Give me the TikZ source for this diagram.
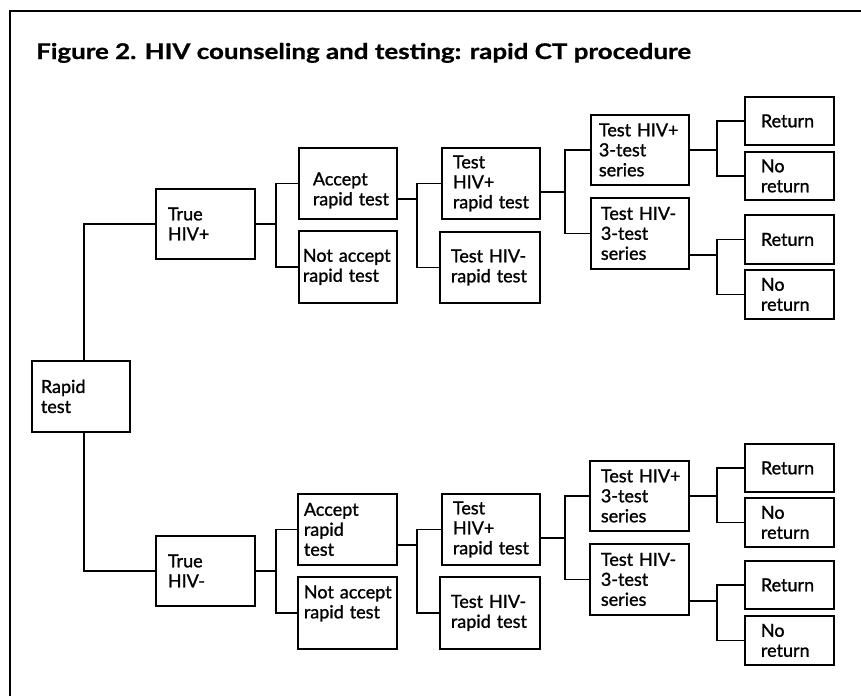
\documentclass[tikz,border=0pt]{standalone}
\usepackage{fontspec}
\setmainfont{Lato}
\newfontfamily\boxfont{Lato}[FakeBold=1.2]
\newfontfamily\titlefont{Lato}[FakeBold=0.8]
\usetikzlibrary{calc}
\begin{document}
\begin{tikzpicture}[x=1pt,y=-1pt,
  boxst/.style={draw, line width=1.8pt, rectangle, anchor=north west, align=left,
    inner xsep=0pt, inner ysep=0pt, font=\boxfont\fontsize{18}{20}\selectfont},
  conn/.style={line width=1.8pt},
  framest/.style={line width=1.5pt},
  titlest/.style={font=\titlefont\bfseries\fontsize{21.6}{24}\selectfont, inner sep=0pt}]
\useasboundingbox (0,0) rectangle (861,696);
\draw[framest] (10,696) -- (10,11) -- (861,11);
\node[titlest, anchor=base west] (title) at (36,59) {\scalebox{1.2}[1]{Figure 2. HIV counseling and testing: rapid CT procedure}};

% level 0
\node[boxst, minimum width=98, minimum height=71, text width=80] (A) at (31,360) {Rapid\\test};
% level 1
\node[boxst, minimum width=99, minimum height=70, text width=75] (T1) at (155,188) {True\\HIV+};
\node[boxst, minimum width=99, minimum height=70, text width=75] (T2) at (155,535) {True\\HIV-};
% level 2
\node[boxst, minimum width=98, minimum height=71, text width=70] (AC1) at (298,147) {\rule{0pt}{27pt}Accept\\\mbox{rapid test}};
\node[boxst, minimum width=98, minimum height=72, text width=90] (NA1) at (298,230) {\mbox{Not accept}\\\mbox{rapid test}};
\node[boxst, minimum width=99, minimum height=71, text width=87] (AC2) at (297,493) {Accept\\rapid\\test};
\node[boxst, minimum width=99, minimum height=72, text width=87] (NA2) at (297,576) {\mbox{Not accept}\\\rule[-22pt]{0pt}{0pt}\mbox{rapid test}};
% level 3
\node[boxst, minimum width=98, minimum height=71, text width=76] (TP1) at (441,147) {Test\\HIV+\\\mbox{rapid test}};
\node[boxst, minimum width=100, minimum height=71, text width=78] (TN1) at (439,231) {\mbox{Test HIV-}\\\mbox{rapid test}};
\node[boxst, minimum width=98, minimum height=71, text width=76] (TP2) at (441,493) {Test\\HIV+\\\mbox{rapid test}};
\node[boxst, minimum width=100, minimum height=72, text width=78] (TN2) at (439,576) {\mbox{Test HIV-}\\\mbox{rapid test}};
% level 4
\node[boxst, minimum width=98, minimum height=70, text width=82] (S1) at (590,114) {\mbox{Test HIV+}\\3-test\\series};
\node[boxst, minimum width=98, minimum height=71, text width=78] (S2) at (590,197) {\mbox{Test HIV-}\\3-test\\series};
\node[boxst, minimum width=99, minimum height=70, text width=77] (S3) at (589,460) {\mbox{Test HIV+}\\3-test\\series};
\node[boxst, minimum width=99, minimum height=71, text width=77] (S4) at (589,543) {\mbox{Test HIV-}\\3-test\\series};
% level 5
\node[boxst, minimum width=89, minimum height=48, text width=57] (R1) at (744,96) {Return};
\node[boxst, minimum width=89, minimum height=48, text width=57] (N1) at (744,151) {No\\return};
\node[boxst, minimum width=89, minimum height=49, text width=57] (R2) at (744,214) {Return};
\node[boxst, minimum width=89, minimum height=49, text width=57] (N2) at (744,269) {No\\return};
\node[boxst, minimum width=89, minimum height=48, text width=57] (R3) at (744,443) {Return};
\node[boxst, minimum width=89, minimum height=49, text width=57] (N3) at (744,497) {No\\return};
\node[boxst, minimum width=89, minimum height=48, text width=57] (R4) at (744,560) {Return};
\node[boxst, minimum width=89, minimum height=49, text width=57] (N4) at (744,615) {No\\return};

% connectors
\draw[conn] ([xshift=3pt]A.north) |- (T1.west);
\draw[conn] ([xshift=3pt]A.south) |- (T2.west);

\draw[conn] (T1.east) -- ([xshift=-22pt]AC1.west |- T1.east);
\draw[conn] (AC1.west) -- ++(-22,0) |- (NA1.west);
\draw[conn] (T2.east) -- ([xshift=-21pt]AC2.west |- T2.east);
\draw[conn] (AC2.west) -- ++(-21,0) |- (NA2.west);

\coordinate (o1) at ($(AC1.east)+(0,15.5)$);
\draw[conn] (o1) -- ([xshift=-24pt]TP1.west |- o1);
\draw[conn] (TP1.west) -- ++(-24,0) |- (TN1.west);
\coordinate (o2) at ($(AC2.east)+(0,15.5)$);
\draw[conn] (o2) -- ([xshift=-24pt]TP2.west |- o2);
\draw[conn] (TP2.west) -- ++(-24,0) |- (TN2.west);

\coordinate (o3) at ($(TP1.east)+(0,8.5)$);
\draw[conn] (o3) -- ([xshift=-25pt]S1.west |- o3);
\draw[conn] (S1.west) -- ++(-25,0) |- (S2.west);
\coordinate (o4) at ($(TP2.east)+(0,8.5)$);
\draw[conn] (o4) -- ([xshift=-24pt]S3.west |- o4);
\draw[conn] (S3.west) -- ++(-24,0) |- (S4.west);

\draw[conn] (S1.east) -- ([xshift=-27pt]R1.west |- S1.east);
\draw[conn] (R1.west) -- ++(-27,0) |- (N1.west);
\coordinate (o5) at ($(S2.east)+(0,21.5)$);
\draw[conn] (o5) -- ([xshift=-27pt]R2.west |- o5);
\draw[conn] (R2.west) -- ++(-27,0) |- (N2.west);

\draw[conn] (S3.east) -- ([xshift=-27pt]R3.west |- S3.east);
\draw[conn] (R3.west) -- ++(-27,0) |- (N3.west);
\coordinate (o6) at ($(S4.east)+(0,21.5)$);
\draw[conn] (o6) -- ([xshift=-27pt]R4.west |- o6);
\draw[conn] (R4.west) -- ++(-27,0) |- (N4.west);
\end{tikzpicture}
\end{document}
